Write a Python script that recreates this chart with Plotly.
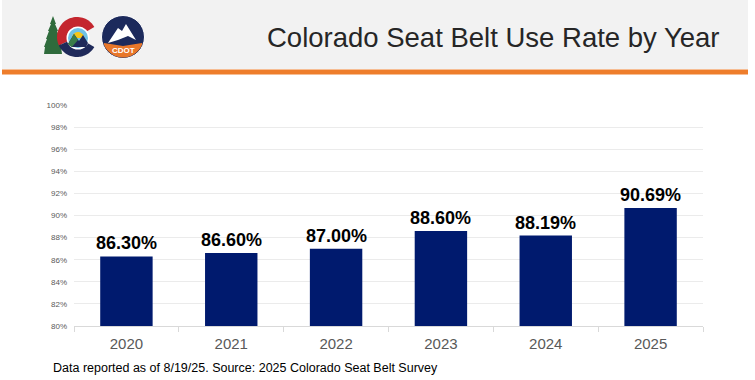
import math
import plotly.graph_objects as go

# ---- data ----
years = ["2020", "2021", "2022", "2023", "2024", "2025"]
belt_use_rate = [86.30, 86.60, 87.00, 88.60, 88.19, 90.69]
y_ticks = [80, 82, 84, 86, 88, 90, 92, 94, 96, 98, 100]
y_tick_labels = ["80%", "82%", "84%", "86%", "88%", "90%", "92%", "94%", "96%", "98%", "100%"]
title_text = "Colorado Seat Belt Use Rate by Year"
footer_text = "Data reported as of 8/19/25. Source: 2025 Colorado Seat Belt Survey"

# ---- layout geometry (pixels) ----
FW, FH = 755, 380
L, R, T, B = 74, 703, 105, 326
PW, PH = R - L, B - T


def px(x):
    return (x - L) / PW


def py(y):
    return (B - y) / PH


def path(points, close=True):
    s = "M " + " L ".join(f"{px(x):.5f},{py(y):.5f}" for x, y in points)
    return s + (" Z" if close else "")


def arc_pts(cx, cy, r, a0, a1, n=40):
    pts = []
    for i in range(n + 1):
        a = math.radians(a0 + (a1 - a0) * i / n)
        pts.append((cx + r * math.cos(a), cy - r * math.sin(a)))
    return pts


def sector(cx, cy, ro, ri, a0, a1):
    outer = arc_pts(cx, cy, ro, a0, a1)
    inner = arc_pts(cx, cy, ri, a1, a0) if ri > 0 else [(cx, cy)]
    return outer + inner


def circ(cx, cy, r, color, line=None, lw=0):
    return dict(type="circle", xref="paper", yref="paper",
                x0=px(cx - r), x1=px(cx + r), y0=py(cy + r), y1=py(cy - r),
                fillcolor=color, line=dict(width=lw, color=line or color), layer="above")


def poly(points, color, layer="above"):
    return dict(type="path", xref="paper", yref="paper", path=path(points),
                fillcolor=color, line=dict(width=0), layer=layer)


shapes = []
# header band + orange rule
shapes.append(dict(type="rect", xref="paper", yref="paper", x0=px(2), x1=px(748),
                   y0=py(69), y1=py(0), fillcolor="#f2f2f2", line=dict(width=0), layer="below"))
shapes.append(dict(type="rect", xref="paper", yref="paper", x0=px(2), x1=px(748),
                   y0=py(74.5), y1=py(69.5), fillcolor="#ee7d2b", line=dict(width=0), layer="below"))

# ---- Colorado logo (tree + C) ----
tree = [(53, 16), (56, 24), (55, 24), (58, 31), (57, 31), (60, 39), (59, 39), (62, 47),
        (61, 47), (62, 54), (44, 54), (45, 47), (44, 47), (47, 39), (46, 39), (49, 31),
        (48, 31), (51, 24), (50, 24)]
shapes.append(poly(tree, "#2f6b3c"))
cx, cy = 77, 37
shapes.append(poly(sector(cx, cy, 20, 0, 30, 205), "#c4262e"))
shapes.append(poly(sector(cx, cy, 20, 0, 205, 330), "#1f2a5a"))
shapes.append(circ(78, 38, 11.5, "#ffffff"))
shapes.append(circ(78, 38, 10, "#6fc1e6"))
shapes.append(poly(sector(78, 38, 6, 0, 0, 180), "#f5c518"))
shapes.append(poly([(68, 44), (74, 34), (79, 41), (83, 35), (88, 43), (86, 47), (72, 47)], "#1f2a5a"))
shapes.append(poly([(68, 44), (74, 34), (78, 40), (72, 47), (70, 46)], "#3b7d4a"))

# ---- CDOT logo ----
ccx, ccy = 123, 37
shapes.append(circ(ccx, ccy, 21.5, "#1c2a5c", line="#ffffff", lw=1))
orange = arc_pts(ccx, ccy, 20.5, 200, 340) + [(ccx + 19, ccy + 6), (ccx, ccy + 9), (ccx - 19, ccy + 6)]
shapes.append(poly(orange, "#e8772a"))
shapes.append(poly([(108, 43), (118, 28), (122, 31), (126, 24), (136, 40), (128, 36), (118, 40)], "#ffffff"))

annotations = []
annotations.append(dict(xref="paper", yref="paper", x=px(ccx), y=py(50), text="<b>CDOT</b>",
                        showarrow=False, font=dict(family="Liberation Sans", size=8, color="#ffffff"),
                        xanchor="center", yanchor="middle"))
annotations.append(dict(xref="paper", yref="paper", x=px(493), y=py(38), text=title_text,
                        showarrow=False, font=dict(family="Liberation Sans", size=27.5, color="#262626"),
                        xanchor="center", yanchor="middle"))
annotations.append(dict(xref="paper", yref="paper", x=px(51), y=py(368), text=footer_text,
                        showarrow=False, font=dict(family="Liberation Sans", size=12.5, color="#000000"),
                        xanchor="left", yanchor="middle"))
for i, v in enumerate(belt_use_rate):
    annotations.append(dict(x=i, y=v, xref="x", yref="y", text=f"{v:.2f}%", showarrow=False,
                            yanchor="bottom", yshift=1,
                            font=dict(family="Liberation Sans", size=18, color="#000000", weight="bold")))

fig = go.Figure(go.Bar(x=years, y=belt_use_rate, marker=dict(color="#001a6e", line=dict(width=0)),
                       width=0.5, hoverinfo="x+y"))

fig.update_layout(
    width=FW, height=FH,
    margin=dict(l=L, r=FW - R, t=T, b=FH - B, pad=0),
    paper_bgcolor="#ffffff", plot_bgcolor="#ffffff",
    showlegend=False,
    shapes=shapes, annotations=annotations,
    xaxis=dict(type="category", range=[-0.5, len(years) - 0.5], showgrid=False, showline=True,
               linecolor="#d9d9d9", linewidth=1,
               ticks="outside", tickson="boundaries", ticklen=5, tickcolor="#d9d9d9",
               ticklabelstandoff=4,
               tickfont=dict(family="Liberation Sans", size=15, color="#595959")),
    yaxis=dict(range=[80, 100], tickmode="array", tickvals=y_ticks, ticktext=y_tick_labels,
               showgrid=True, gridcolor="#ebebeb",
               gridwidth=1, zeroline=False, showline=False, ticks="",
               tickfont=dict(family="Liberation Sans", size=8, color="#595959"), ticklabelstandoff=6),
)

fig.write_html("out.html", config={"displayModeBar": False},
               post_script="document.body.style.margin='0';document.body.style.overflow='hidden';")
